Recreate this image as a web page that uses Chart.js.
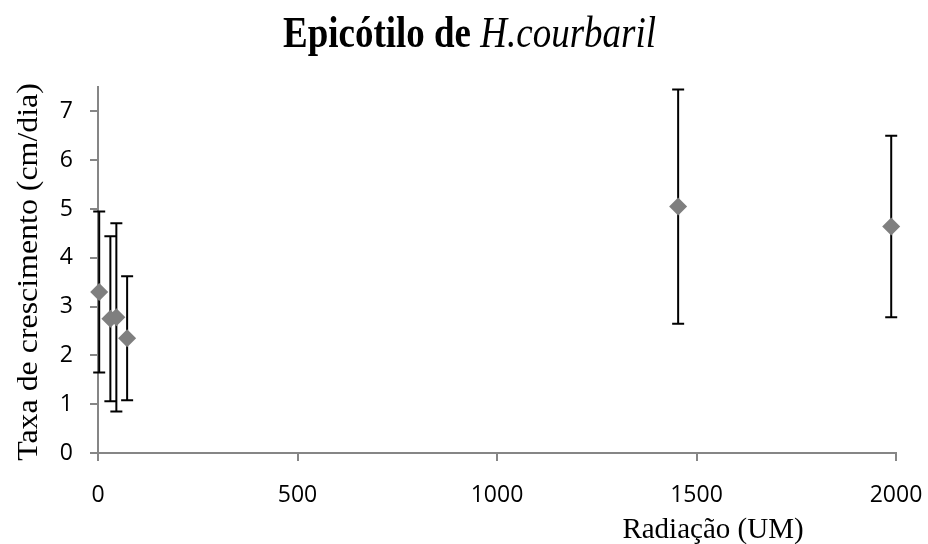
<!DOCTYPE html>
<html>
<head>
<meta charset="utf-8">
<title>Epicótilo de H.courbaril</title>
<script src="https://cdn.jsdelivr.net/npm/chart.js@4.4.1/dist/chart.umd.min.js"></script>
<style>
  html, body { margin: 0; padding: 0; background: #ffffff; }
  #wrap { width: 928px; height: 544px; position: relative; }
</style>
</head>
<body>
<div id="wrap"><canvas id="grafico" width="928" height="544"></canvas></div>
<script>
// Radiação (UM) de cada tratamento
const radiacao = [3, 31, 46, 73, 1454, 1988];
// Taxa média de crescimento (cm/dia)
const taxa = [3.30, 2.75, 2.78, 2.35, 5.05, 4.64];
// Desvio (barra de erro, simétrica)
const desvio = [1.65, 1.69, 1.93, 1.27, 2.40, 1.86];
const ticksX = [0, 500, 1000, 1500, 2000];
const ticksY = [0, 1, 2, 3, 4, 5, 6, 7];

const pontos = radiacao.map((x, i) => ({ x: x, y: taxa[i], e: desvio[i] }));

// barras de erro desenhadas antes dos marcadores
const barrasErro = {
  id: 'barrasErro',
  beforeDatasetsDraw(chart) {
    const ctx = chart.ctx;
    const sx = chart.scales.x, sy = chart.scales.y;
    ctx.save();
    ctx.strokeStyle = '#000000';
    ctx.lineWidth = 2;
    pontos.forEach(p => {
      const px = sx.getPixelForValue(p.x);
      const topo = sy.getPixelForValue(p.y + p.e);
      const base = sy.getPixelForValue(p.y - p.e);
      ctx.beginPath();
      ctx.moveTo(px, topo); ctx.lineTo(px, base);
      ctx.moveTo(px - 6, topo); ctx.lineTo(px + 6, topo);
      ctx.moveTo(px - 6, base); ctx.lineTo(px + 6, base);
      ctx.stroke();
    });
    ctx.restore();
  }
};

const serif = '"Liberation Serif", "Times New Roman", serif';

// títulos em Times (parte do título em itálico), levemente esticados na vertical
const titulos = {
  id: 'titulos',
  afterDraw(chart) {
    const ctx = chart.ctx;
    ctx.save();
    ctx.fillStyle = '#000000';
    ctx.textBaseline = 'alphabetic';
    ctx.textAlign = 'left';
    const f1 = 'bold 37px ' + serif;
    const f2 = 'italic 37px ' + serif;
    const t1 = 'Epicótilo de ', t2 = 'H.courbaril';
    ctx.font = f1; const w1 = ctx.measureText(t1).width;
    ctx.font = f2; const w2 = ctx.measureText(t2).width;
    const x0 = 469.5 - (w1 + w2) / 2;
    ctx.save();
    ctx.translate(0, 47);
    ctx.scale(1, 1.2);
    ctx.font = f1; ctx.fillText(t1, x0, 0);
    ctx.font = f2; ctx.fillText(t2, x0 + w1, 0);
    ctx.restore();

    ctx.save();
    ctx.font = '29px ' + serif;
    ctx.textAlign = 'center';
    ctx.translate(713, 538);
    ctx.scale(1, 1.05);
    ctx.fillText('Radiação (UM)', 0, 0);
    ctx.restore();

    ctx.save();
    ctx.font = '29px ' + serif;
    ctx.textAlign = 'center';
    ctx.translate(29, 272);
    ctx.rotate(-Math.PI / 2);
    ctx.scale(1.1, 1);
    ctx.textBaseline = 'middle';
    ctx.fillText('Taxa de crescimento (cm/dia)', 0, 0);
    ctx.restore();
    ctx.restore();
  }
};

const cinza = '#868686';
const fonteEixo = { family: '"Open Sans"', size: 23 };

new Chart(document.getElementById('grafico'), {
  type: 'scatter',
  data: {
    datasets: [{
      data: pontos,
      clip: false,
      pointStyle: 'rectRot',
      pointRadius: 9,
      pointHoverRadius: 9,
      pointBackgroundColor: '#7f7f7f',
      pointBorderWidth: 0,
      showLine: false
    }]
  },
  options: {
    responsive: false,
    animation: false,
    layout: { padding: { left: 0, top: 87, right: 32, bottom: 0 } },
    plugins: { legend: { display: false }, tooltip: { enabled: false } },
    scales: {
      x: {
        type: 'linear',
        min: 0, max: 2000,
        afterFit(s) { s.height = 91; s.paddingLeft = 0; s.paddingRight = 0; },
        afterBuildTicks(s) { s.ticks = ticksX.map(v => ({ value: v })); },
        border: { color: cinza, width: 2 },
        grid: { drawOnChartArea: false, drawTicks: true, tickLength: 8, color: cinza, lineWidth: 2 },
        ticks: { color: '#000000', padding: 21, font: fonteEixo, callback: v => String(v) }
      },
      y: {
        type: 'linear',
        min: 0, max: 7.5,
        afterFit(s) { s.width = 98; s.paddingTop = 0; s.paddingBottom = 0; },
        afterBuildTicks(s) { s.ticks = ticksY.map(v => ({ value: v })); },
        border: { color: cinza, width: 2 },
        grid: { drawOnChartArea: false, drawTicks: true, tickLength: 8, color: cinza, lineWidth: 2 },
        ticks: { color: '#000000', padding: 17, font: fonteEixo, callback: v => String(v) }
      }
    }
  },
  plugins: [barrasErro, titulos]
});
</script>
</body>
</html>
